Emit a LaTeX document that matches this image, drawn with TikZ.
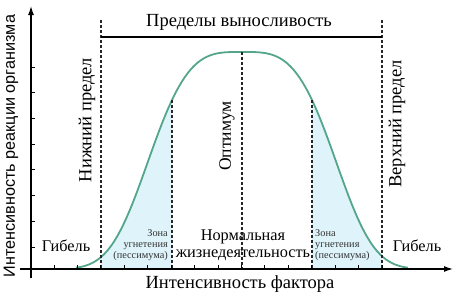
\documentclass[tikz,border=0pt]{standalone}
\usepackage{fontspec}
\setmainfont{Liberation Serif}
\newfontfamily\ysans{Liberation Sans}
\usetikzlibrary{arrows.meta}
\definecolor{curvec}{RGB}{84,166,138}
\definecolor{zonec}{RGB}{222,244,250}
\begin{document}
\begin{tikzpicture}[x=1pt,y=-1pt,
  declare function={gy(\t)=269-217*exp(-pow(abs(\t-242)/104+0.00001,3.5));},
  limline/.style={line width=1.8pt, dash pattern=on 3pt off 2pt, black!85},
  axisline/.style={line width=1.3pt},
  lbl/.style={font=\fontsize{16.3}{17}\selectfont, inner sep=0pt},
  biglbl/.style={font=\fontsize{18.5}{20}\selectfont, inner sep=0pt},
  smalllbl/.style={font=\fontsize{10.3}{11}\selectfont, inner sep=0pt, text=black!80}]
\useasboundingbox (0,0) rectangle (458,295);
% zones
\fill[zonec] plot[domain=101:172,samples=40] (\x,{gy(\x)}) -- (172,269) -- (101,269) -- cycle;
\fill[zonec] plot[domain=312:382,samples=40] (\x,{gy(\x)}) -- (382,269) -- (312,269) -- cycle;
% curve
\draw[curvec, line width=1.8pt] plot[domain=76:408,samples=120] (\x,{gy(\x)});
% dashed lines
\coordinate (lt) at (101,20); \coordinate (lb) at (101,269);
\coordinate (rt) at (382,20); \coordinate (rb) at (382,269);
\coordinate (i1t) at (172,{gy(172)}); \coordinate (i1b) at (172,269);
\coordinate (i2t) at (312,{gy(312)}); \coordinate (i2b) at (312,269);
\coordinate (ot) at (242,{gy(242)}); \coordinate (ob) at (242,269);
\draw[limline] (lt) -- (lb);
\draw[limline] (rt) -- (rb);
\draw[limline] (i1t) -- (i1b);
\draw[limline] (i2t) -- (i2b);
\draw[limline] (ot) -- (ob);
\coordinate (hl) at (101,37); \coordinate (hr) at (382,37);
\draw[line width=1.6pt] (hl) -- (hr);
% axes
\coordinate (yb) at (31,278); \coordinate (yt) at (31,6);
\coordinate (xb) at (20,269); \coordinate (xt) at (453,269);
\draw[axisline,-{Latex[length=9pt,width=6pt]}] (yb) -- (yt);
\draw[axisline,-{Latex[length=9pt,width=6pt]}] (xb) -- (xt);
\foreach \t in {0,...,7} \draw[line width=0.8pt] (31,{67+\t*25.7}) -- ++(4,0);
\foreach \t in {0,...,14} \draw[line width=0.8pt] ({54+\t*23.43},269) -- ++(0,-4);
% texts
\node[biglbl] (top) at (239,22) {Пределы выносливость};
\node[biglbl] (xl) at (240,284) {Интенсивность фактора};
\node[font=\ysans\fontsize{16.2}{17}\selectfont, rotate=90, inner sep=0pt] (yl) at (11,146) {Интенсивность реакции организма};
\node[biglbl,rotate=90] (low) at (87,120) {Нижний предел};
\node[biglbl,rotate=90] (up) at (397,124) {Верхний предел};
\node[font=\fontsize{17.5}{18}\selectfont, inner sep=0pt,rotate=90] (opt) at (227,136) {Оптимум};
\node[lbl] (g1) at (66,246) {Гибель};
\node[lbl] (g2) at (417,246) {Гибель};
\node[lbl,align=center] (norm) at (243,245) {Нормальная\\жизнедеятельность};
\node[smalllbl, align=right, anchor=east] (z1) at (168,245) {Зона\\угнетения\\(пессимума)};
\node[smalllbl, align=left, anchor=west] (z2) at (315,245) {Зона\\угнетения\\(пессимума)};
\end{tikzpicture}
\end{document}
